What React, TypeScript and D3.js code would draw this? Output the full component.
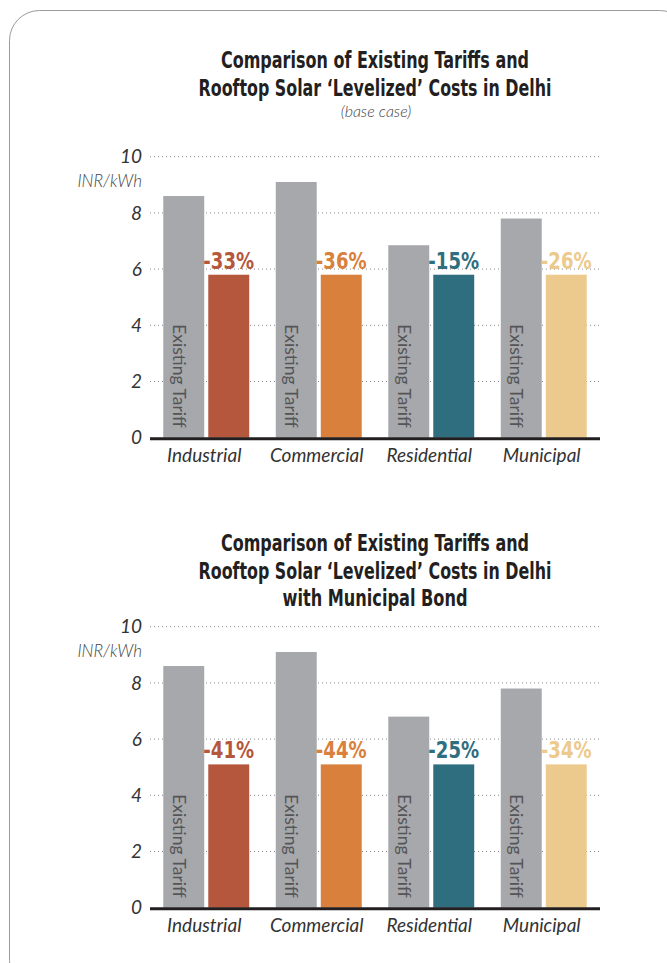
import React from 'react';
import * as d3 from 'd3';

const categories = ['Industrial', 'Commercial', 'Residential', 'Municipal'];
const tariffBase = [8.6, 9.1, 6.85, 7.8];
const solarBase = [5.8, 5.8, 5.8, 5.8];
const savingsBase = ['-33%', '-36%', '-15%', '-26%'];
const tariffBond = [8.6, 9.1, 6.8, 7.8];
const solarBond = [5.1, 5.1, 5.1, 5.1];
const savingsBond = ['-41%', '-44%', '-25%', '-34%'];
const barColors = ['#b5573d', '#d8803c', '#2e6e7e', '#ecc98c'];
const yTicks = [0, 2, 4, 6, 8, 10];

const W = 667;
const H = 963;
const titleFont = "'DejaVu Sans Condensed', 'DejaVu Sans', sans-serif";
const labelFont = "Lato, 'Open Sans', sans-serif";

interface TitleLine {
  text: string;
  width: number;
}

interface ChartProps {
  top: number;
  titleTop: number;
  titleLines: TitleLine[];
  subtitle?: string;
  tariffs: number[];
  solar: number[];
  savings: string[];
}

const Chart = ({ top, titleTop, titleLines, subtitle, tariffs, solar, savings }: ChartProps) => {
  // plot area
  const left = 150;
  const right = 600;
  const plotTop = top + 146.7;
  const plotBottom = top + 427.7;

  const y = d3.scaleLinear().domain([0, 10]).range([plotBottom, plotTop]);
  const x0 = d3.scaleBand<string>()
    .domain(categories)
    .range([left, right])
    .paddingInner(0.236)
    .paddingOuter(0.118);
  const x1 = d3.scaleBand<string>()
    .domain(['tariff', 'solar'])
    .range([0, x0.bandwidth()])
    .paddingInner(0.09);

  return (
    <g>
      {titleLines.map((t, i) => (
        <text key={t.text} x={375} y={titleTop + i * 27.5} textAnchor="middle"
          textLength={t.width} lengthAdjust="spacingAndGlyphs"
          fontFamily={titleFont} fontWeight="bold" fontSize={22.5} fill="#231f20">{t.text}</text>
      ))}
      {subtitle && (
        <text x={376} y={top + 107} textAnchor="middle" fontFamily={labelFont}
          fontStyle="italic" fontWeight={300} fontSize={16} fill="#444">{subtitle}</text>
      )}

      {/* dotted grid */}
      {yTicks.filter(d => d > 0).map(d => (
        <line key={d} x1={left} x2={right} y1={y(d)} y2={y(d)}
          stroke="#8a8a8a" strokeWidth={1} strokeDasharray="1,3" />
      ))}
      {yTicks.map(d => (
        <text key={d} x={142} y={y(d)} dy="0.35em" textAnchor="end"
          fontFamily={labelFont} fontStyle="italic" fontSize={19} fill="#333">{d}</text>
      ))}
      <text x={142} y={y(10) + 30} textAnchor="end" fontFamily={labelFont}
        fontStyle="italic" fontWeight={300} fontSize={17} fill="#444">INR/kWh</text>

      {categories.map((c, i) => {
        const gx = x0(c) as number;
        const tx = gx + (x1('tariff') as number);
        const sx = gx + (x1('solar') as number);
        const bw = x1.bandwidth();
        return (
          <g key={c}>
            <rect x={tx} y={y(tariffs[i])} width={bw} height={y(0) - y(tariffs[i])} fill="#a7a8ac" />
            <rect x={sx} y={y(solar[i])} width={bw} height={y(0) - y(solar[i])} fill={barColors[i]} />
            <text transform={`translate(${tx + 9.5},${y(0) - 10}) rotate(90)`} textAnchor="end"
              fontFamily={labelFont} fontWeight={400} fontSize={17.5} fill="#555557">Existing Tariff</text>
            <text x={sx + bw / 2} y={y(solar[i]) - 6} textAnchor="middle"
              textLength={savings[i].length * 12.7} lengthAdjust="spacingAndGlyphs"
              fontFamily={titleFont} fontWeight="bold" fontSize={23} fill={barColors[i]}>{savings[i]}</text>
            <text x={gx + x0.bandwidth() / 2 - 2} y={y(0) + 24} textAnchor="middle"
              fontFamily={labelFont} fontStyle="italic" fontWeight={400} fontSize={19} fill="#333">{c}</text>
          </g>
        );
      })}

      <line x1={left} x2={right} y1={y(0) + 1} y2={y(0) + 1} stroke="#231f20" strokeWidth={3} />
    </g>
  );
};

export default function App() {
  return (
    <svg width={W} height={H} style={{ position: 'absolute', left: 0, top: 0, background: '#fff' }}>
      <rect x={9.5} y={10.5} width={680} height={980} rx={30} fill="#fff" stroke="#9a9a9a" strokeWidth={1} />
      <Chart top={10} titleTop={68}
        titleLines={[
          { text: 'Comparison of Existing Tariffs and', width: 308 },
          { text: 'Rooftop Solar \u2018Levelized\u2019 Costs in Delhi', width: 353 },
        ]}
        subtitle="(base case)"
        tariffs={tariffBase} solar={solarBase} savings={savingsBase} />
      <Chart top={480} titleTop={551}
        titleLines={[
          { text: 'Comparison of Existing Tariffs and', width: 308 },
          { text: 'Rooftop Solar \u2018Levelized\u2019 Costs in Delhi', width: 353 },
          { text: 'with Municipal Bond', width: 185 },
        ]}
        tariffs={tariffBond} solar={solarBond} savings={savingsBond} />
    </svg>
  );
}
